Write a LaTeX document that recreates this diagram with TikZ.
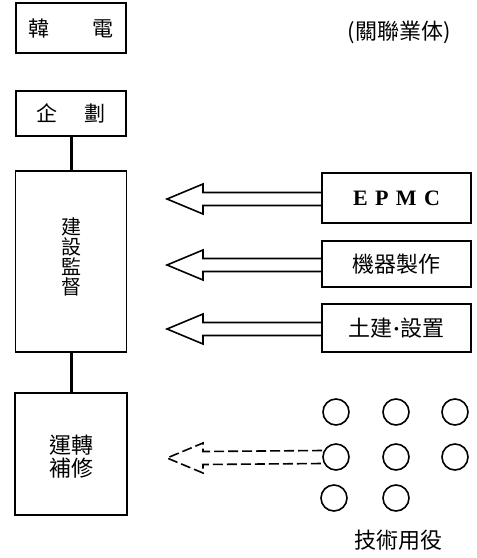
\documentclass[tikz,border=0pt]{standalone}
\usepackage{fontspec}
\setmainfont{Liberation Serif}
\newfontfamily\cjk{Noto Sans CJK TC}
\usetikzlibrary{calc}
\tikzset{
  box/.style={draw, line width=1.5pt, rectangle, inner sep=0pt, font=\cjk\fontsize{21}{23}\selectfont},
  ring/.style={draw, line width=1.6pt, circle, minimum size=26pt, inner sep=0pt},
  link/.style={line width=3pt},
  fat/.style={line width=1.6pt, line join=miter},
  lbl/.style={font=\cjk\fontsize{22}{24}\selectfont, inner sep=0pt}
}
\begin{document}
\begin{tikzpicture}[x=1pt,y=-1pt]
\useasboundingbox (0,0) rectangle (477,558);
% left column
\node[box, minimum width=110pt, minimum height=50pt] (kepco) at (71,28) {韓\hspace{44pt}電};
\node[box, minimum width=110pt, minimum height=45pt] (plan) at (71,113.5) {企\hspace{27pt}劃};
\node[box, minimum width=111pt, minimum height=181pt] (super) at (71,261.5) {};
\node[lbl, align=center, font=\cjk\fontsize{20}{20}\selectfont] (supert) at (71,257) {建\\設\\監\\督};
\node[box, minimum width=112pt, minimum height=122pt] (oper) at (71,454) {};
\node[lbl, align=center, font=\cjk\fontsize{22}{23}\selectfont] (opert) at (71,457) {運轉\\補修};
\draw[link] (plan.south) -- (super.north);
\draw[link] (super.south) -- (oper.north);
% right column
\node[lbl] (rel) at (399,32) {(關聯業体)};
\node[box, minimum width=149pt, minimum height=50pt, font=\fontsize{22}{24}\selectfont\bfseries] (epmc) at (396.5,198) {E\,\,P\,\,M\,\,C};
\node[box, minimum width=149pt, minimum height=46pt, font=\cjk\fontsize{22}{24}\selectfont] (mach) at (396.5,264) {機器製作};
\node[box, minimum width=149pt, minimum height=48pt, font=\cjk\fontsize{22}{24}\selectfont] (civil) at (396.5,328) {土建{\rmfamily\bfseries ·}設置};
% arrow tips
\coordinate (t1) at (167,199);
\coordinate (t2) at (167,265);
\coordinate (t3) at (167,329);
\coordinate (t4) at (167,458);
\foreach \b/\t in {epmc/t1, mach/t2, civil/t3}{
  \draw[fat] (\b.west |- {$(\t)+(0,-6.5)$}) -- ($(\t)+(36,-6.5)$) -- ($(\t)+(36,-15)$) -- (\t)
    -- ($(\t)+(36,15)$) -- ($(\t)+(36,6.5)$) -- (\b.west |- {$(\t)+(0,6.5)$});
}
% circles
\node[ring] (c11) at (336,412) {};
\node[ring] (c12) at (396,412) {};
\node[ring] (c13) at (455,412) {};
\node[ring] (c21) at (336,457) {};
\node[ring] (c22) at (396,457) {};
\node[ring] (c23) at (455,457) {};
\node[ring] (c31) at (334,498) {};
\node[ring] (c32) at (396,498) {};
\node[lbl] (tech) at (398,540) {技術用役};
\draw[fat, dash pattern=on 10pt off 4pt] ($(c21.west)+(0,-6.5)$) -- ($(t4)+(36,-6.5)$) -- ($(t4)+(36,-15)$) -- (t4)
  -- ($(t4)+(36,15)$) -- ($(t4)+(36,6.5)$) -- ($(c21.west)+(0,6.5)$);
\end{tikzpicture}
\end{document}
